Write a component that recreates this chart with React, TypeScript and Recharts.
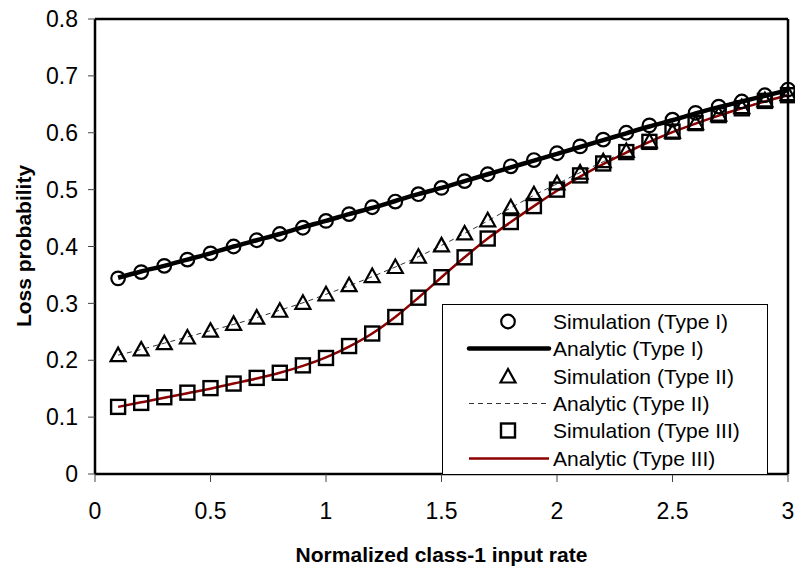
import { ComposedChart, Line, XAxis, YAxis, ReferenceLine } from "recharts";

// normalized class-1 input rate
const rates = [
  0.1, 0.2, 0.3, 0.4, 0.5, 0.6, 0.7, 0.8, 0.9, 1.0,
  1.1, 1.2, 1.3, 1.4, 1.5, 1.6, 1.7, 1.8, 1.9, 2.0,
  2.1, 2.2, 2.3, 2.4, 2.5, 2.6, 2.7, 2.8, 2.9, 3.0,
];

const simTypeI = [
  0.344, 0.355, 0.366, 0.377, 0.388, 0.4, 0.411, 0.422, 0.433, 0.445,
  0.457, 0.469, 0.479, 0.492, 0.503, 0.515, 0.527, 0.541, 0.552, 0.564,
  0.576, 0.588, 0.6, 0.613, 0.623, 0.635, 0.646, 0.655, 0.666, 0.676,
];
const anaTypeI = [
  0.345, 0.356, 0.366, 0.377, 0.388, 0.4, 0.411, 0.422, 0.434, 0.445,
  0.457, 0.468, 0.48, 0.492, 0.503, 0.515, 0.527, 0.539, 0.551, 0.563,
  0.575, 0.587, 0.599, 0.611, 0.622, 0.634, 0.645, 0.655, 0.665, 0.675,
];

const simTypeII = [
  0.209, 0.219, 0.23, 0.24, 0.252, 0.264, 0.275, 0.287, 0.301, 0.316,
  0.332, 0.348, 0.364, 0.382, 0.402, 0.423, 0.446, 0.469, 0.492, 0.511,
  0.53, 0.55, 0.568, 0.585, 0.602, 0.617, 0.632, 0.645, 0.657, 0.668,
];
const anaTypeII = [
  0.209, 0.219, 0.23, 0.241, 0.252, 0.263, 0.275, 0.288, 0.301, 0.316,
  0.331, 0.347, 0.364, 0.382, 0.402, 0.423, 0.445, 0.468, 0.49, 0.51,
  0.53, 0.549, 0.567, 0.585, 0.601, 0.616, 0.631, 0.644, 0.656, 0.667,
];

const simTypeIII = [
  0.118, 0.125, 0.135, 0.143, 0.151, 0.159, 0.169, 0.178, 0.191, 0.204,
  0.225, 0.247, 0.276, 0.31, 0.346, 0.381, 0.414, 0.443, 0.471, 0.5,
  0.525, 0.546, 0.566, 0.584, 0.602, 0.617, 0.631, 0.643, 0.656, 0.666,
];
const anaTypeIII = [
  0.118, 0.126, 0.134, 0.142, 0.15, 0.159, 0.168, 0.178, 0.19, 0.205,
  0.224, 0.247, 0.276, 0.31, 0.346, 0.381, 0.414, 0.443, 0.471, 0.498,
  0.523, 0.545, 0.565, 0.584, 0.601, 0.616, 0.63, 0.643, 0.655, 0.666,
];

const xTicks = [0, 0.5, 1, 1.5, 2, 2.5, 3];
const yTicks = [0, 0.1, 0.2, 0.3, 0.4, 0.5, 0.6, 0.7, 0.8];

const legendItems = [
  { label: "Simulation (Type I)", kind: "circle" },
  { label: "Analytic (Type I)", kind: "thick" },
  { label: "Simulation (Type II)", kind: "triangle" },
  { label: "Analytic (Type II)", kind: "dashed" },
  { label: "Simulation (Type III)", kind: "square" },
  { label: "Analytic (Type III)", kind: "red" },
];

const FONT = "'Liberation Sans', Arial, sans-serif";
const RED = "#8b0000";

const chartData = rates.map((x, i) => ({
  x,
  simI: simTypeI[i],
  anaI: anaTypeI[i],
  simII: simTypeII[i],
  anaII: anaTypeII[i],
  simIII: simTypeIII[i],
  anaIII: anaTypeIII[i],
}));

function Marker({ kind, cx, cy }: { kind: string; cx: number; cy: number }) {
  if (kind === "circle") {
    return <circle cx={cx} cy={cy} r={6.8} fill="none" stroke="#000" strokeWidth={2.2} />;
  }
  if (kind === "triangle") {
    return (
      <path
        d={`M${cx},${cy - 7.5} L${cx - 7.5},${cy + 6} L${cx + 7.5},${cy + 6} Z`}
        fill="none"
        stroke="#000"
        strokeWidth={2.2}
        strokeLinejoin="miter"
      />
    );
  }
  return <rect x={cx - 7} y={cy - 7} width={14} height={14} fill="none" stroke="#000" strokeWidth={2.4} />;
}

const dotOf = (kind: string) => (p: any) => (
  <Marker key={`${kind}-${p.index}`} kind={kind} cx={p.cx} cy={p.cy} />
);

function LegendSample({ kind }: { kind: string }) {
  return (
    <svg width={90} height={27} style={{ position: "absolute", left: 22, top: 0 }}>
      {kind === "thick" && (
        <line x1={4} y1={13.5} x2={84} y2={13.5} stroke="#000" strokeWidth={4.5} strokeLinecap="round" />
      )}
      {kind === "dashed" && (
        <line x1={4} y1={13.5} x2={84} y2={13.5} stroke="#333" strokeWidth={1} strokeDasharray="5 4" />
      )}
      {kind === "red" && <line x1={4} y1={13.5} x2={84} y2={13.5} stroke={RED} strokeWidth={2.5} />}
      {(kind === "circle" || kind === "triangle" || kind === "square") && (
        <Marker kind={kind} cx={43} cy={13.5} />
      )}
    </svg>
  );
}

export default function App() {
  return (
    <div style={{ position: "absolute", left: 0, top: 0, width: 795, height: 567, background: "#fff" }}>
      <ComposedChart
        width={795}
        height={567}
        data={chartData}
        margin={{ top: 19, right: 7, bottom: 0, left: 0 }}
      >
        <XAxis
          dataKey="x"
          type="number"
          domain={[0, 3]}
          ticks={xTicks}
          height={93}
          tickSize={8}
          tickMargin={21}
          axisLine={{ stroke: "#000", strokeWidth: 2.5 }}
          tickLine={{ stroke: "#444", strokeWidth: 1 }}
          tick={{ fill: "#000", fontSize: 23, fontFamily: FONT }}
          label={{
            content: () => (
              <text x={441.5} y={562} textAnchor="middle" fontSize={21} fontWeight="bold" fontFamily={FONT} fill="#000">
                Normalized class-1 input rate
              </text>
            ),
          }}
        />
        <YAxis
          type="number"
          domain={[0, 0.8]}
          ticks={yTicks}
          width={95}
          tickSize={7}
          tickMargin={10}
          axisLine={{ stroke: "#000", strokeWidth: 2.5 }}
          tickLine={{ stroke: "#444", strokeWidth: 1 }}
          tick={{ fill: "#000", fontSize: 23, fontFamily: FONT }}
          label={{
            content: () => (
              <text
                x={0}
                y={0}
                transform="translate(31, 246) rotate(-90)"
                textAnchor="middle"
                fontSize={21}
                fontWeight="bold"
                fontFamily={FONT}
                fill="#000"
              >
                Loss probability
              </text>
            ),
          }}
        />
        <ReferenceLine y={0.8} stroke="#000" strokeWidth={2.5} />
        <ReferenceLine x={3} stroke="#000" strokeWidth={2.5} />

        <Line type="monotone" dataKey="anaI" stroke="#000" strokeWidth={4.5} dot={false} isAnimationActive={false} />
        <Line
          type="monotone"
          dataKey="anaII"
          stroke="#333"
          strokeWidth={1}
          strokeDasharray="5 4"
          dot={false}
          isAnimationActive={false}
        />
        <Line type="monotone" dataKey="anaIII" stroke={RED} strokeWidth={2.5} dot={false} isAnimationActive={false} />

        <Line dataKey="simI" stroke="none" dot={dotOf("circle")} activeDot={false} isAnimationActive={false} />
        <Line dataKey="simII" stroke="none" dot={dotOf("triangle")} activeDot={false} isAnimationActive={false} />
        <Line dataKey="simIII" stroke="none" dot={dotOf("square")} activeDot={false} isAnimationActive={false} />
      </ComposedChart>

      <div
        style={{
          position: "absolute",
          left: 442,
          top: 304,
          width: 326,
          height: 171,
          boxSizing: "border-box",
          border: "1px solid #000",
          background: "#fff",
          fontFamily: FONT,
          fontSize: 21,
          color: "#000",
        }}
      >
        {legendItems.map((item, i) => (
          <div
            key={item.label}
            style={{ position: "absolute", left: 0, top: 3 + i * 27.3, height: 27, width: "100%", lineHeight: "27px" }}
          >
            <LegendSample kind={item.kind} />
            <span style={{ position: "absolute", left: 110, top: 0, whiteSpace: "nowrap" }}>{item.label}</span>
          </div>
        ))}
      </div>
    </div>
  );
}
